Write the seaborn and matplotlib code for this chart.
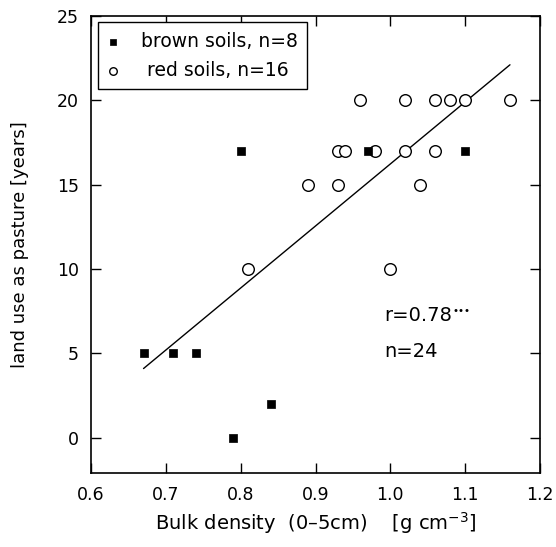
import numpy as np
import pandas as pd
import matplotlib
matplotlib.use("Agg")
import matplotlib.pyplot as plt
import seaborn as sns

# brown soils (filled squares)
brown_bd = [0.67, 0.71, 0.74, 0.79, 0.84, 0.80, 0.97, 1.10]
brown_yrs = [5, 5, 5, 0, 2, 17, 17, 17]

# red soils (open circles)
red_bd = [0.96, 1.02, 1.06, 1.08, 1.10, 1.16,
          0.93, 0.94, 0.98, 1.02, 1.06,
          0.89, 0.93, 1.04,
          0.81, 1.00]
red_yrs = [20, 20, 20, 20, 20, 20,
           17, 17, 17, 17, 17,
           15, 15, 15,
           10, 10]

# regression line end points
fit_x = [0.67, 1.16]
fit_y = [4.1, 22.1]

brown = pd.DataFrame({"bd": brown_bd, "yrs": brown_yrs})
red = pd.DataFrame({"bd": red_bd, "yrs": red_yrs})

sns.set_style("ticks")
plt.rcParams["font.family"] = ["DejaVu Sans"]
plt.rcParams["font.size"] = 12
for k in ["text.color", "axes.labelcolor", "xtick.color", "ytick.color", "axes.edgecolor"]:
    plt.rcParams[k] = "black"

fig, ax = plt.subplots(figsize=(5.56, 5.47), dpi=100)

sns.scatterplot(data=brown, x="bd", y="yrs",
                marker="s", s=40, color="black", edgecolor="black",
                label="brown soils, n=8", ax=ax, zorder=3)
sns.scatterplot(data=red, x="bd", y="yrs",
                marker="o", s=70, facecolor="white", edgecolor="black",
                linewidth=1.0, label=" red soils, n=16", ax=ax, zorder=2)
sns.lineplot(x=fit_x, y=fit_y, color="black", linewidth=1.0, ax=ax, zorder=1)

ax.set_xlim(0.6, 1.2)
ax.set_ylim(-2.1, 25)
ax.set_xticks(np.arange(0.6, 1.21, 0.1))
ax.set_xticklabels(["0.6", "0.7", "0.8", "0.9", "1.0", "1.1", "1.2"])
ax.set_yticks([0, 5, 10, 15, 20, 25])
ax.tick_params(direction="in", length=7, width=1, top=True, right=True,
               labelsize=12.5, pad=9)
for sp in ax.spines.values():
    sp.set_visible(True)
    sp.set_linewidth(1.2)

ax.set_xlabel("Bulk density  (0\u20135cm)    [g cm$^{-3}$]", fontsize=14, labelpad=5)
ax.set_ylabel("land use as pasture [years]", fontsize=13, labelpad=20)

rtxt = ax.text(0.992, 6.9, "r=0.78", fontsize=14, ha="left", va="baseline")
ax.annotate("\u2022\u2022\u2022", xy=(1.0, 1.0), xycoords=rtxt, xytext=(0.5, 0),
            textcoords="offset points", fontsize=7.5, ha="left", va="top")
ax.text(0.992, 4.8, "n=24", fontsize=14, ha="left", va="baseline")

leg = ax.legend(loc="upper left", frameon=True, fancybox=False, fontsize=13.5,
                borderaxespad=0.35, handletextpad=1.2, borderpad=0.5,
                labelspacing=0.55, handlelength=0.6, markerscale=0.65)
leg.get_frame().set_edgecolor("black")
leg.get_frame().set_linewidth(1.0)
leg.get_frame().set_alpha(1)

fig.subplots_adjust(left=0.164, right=0.971, top=0.971, bottom=0.135)
fig.savefig("out.png", dpi=100)
